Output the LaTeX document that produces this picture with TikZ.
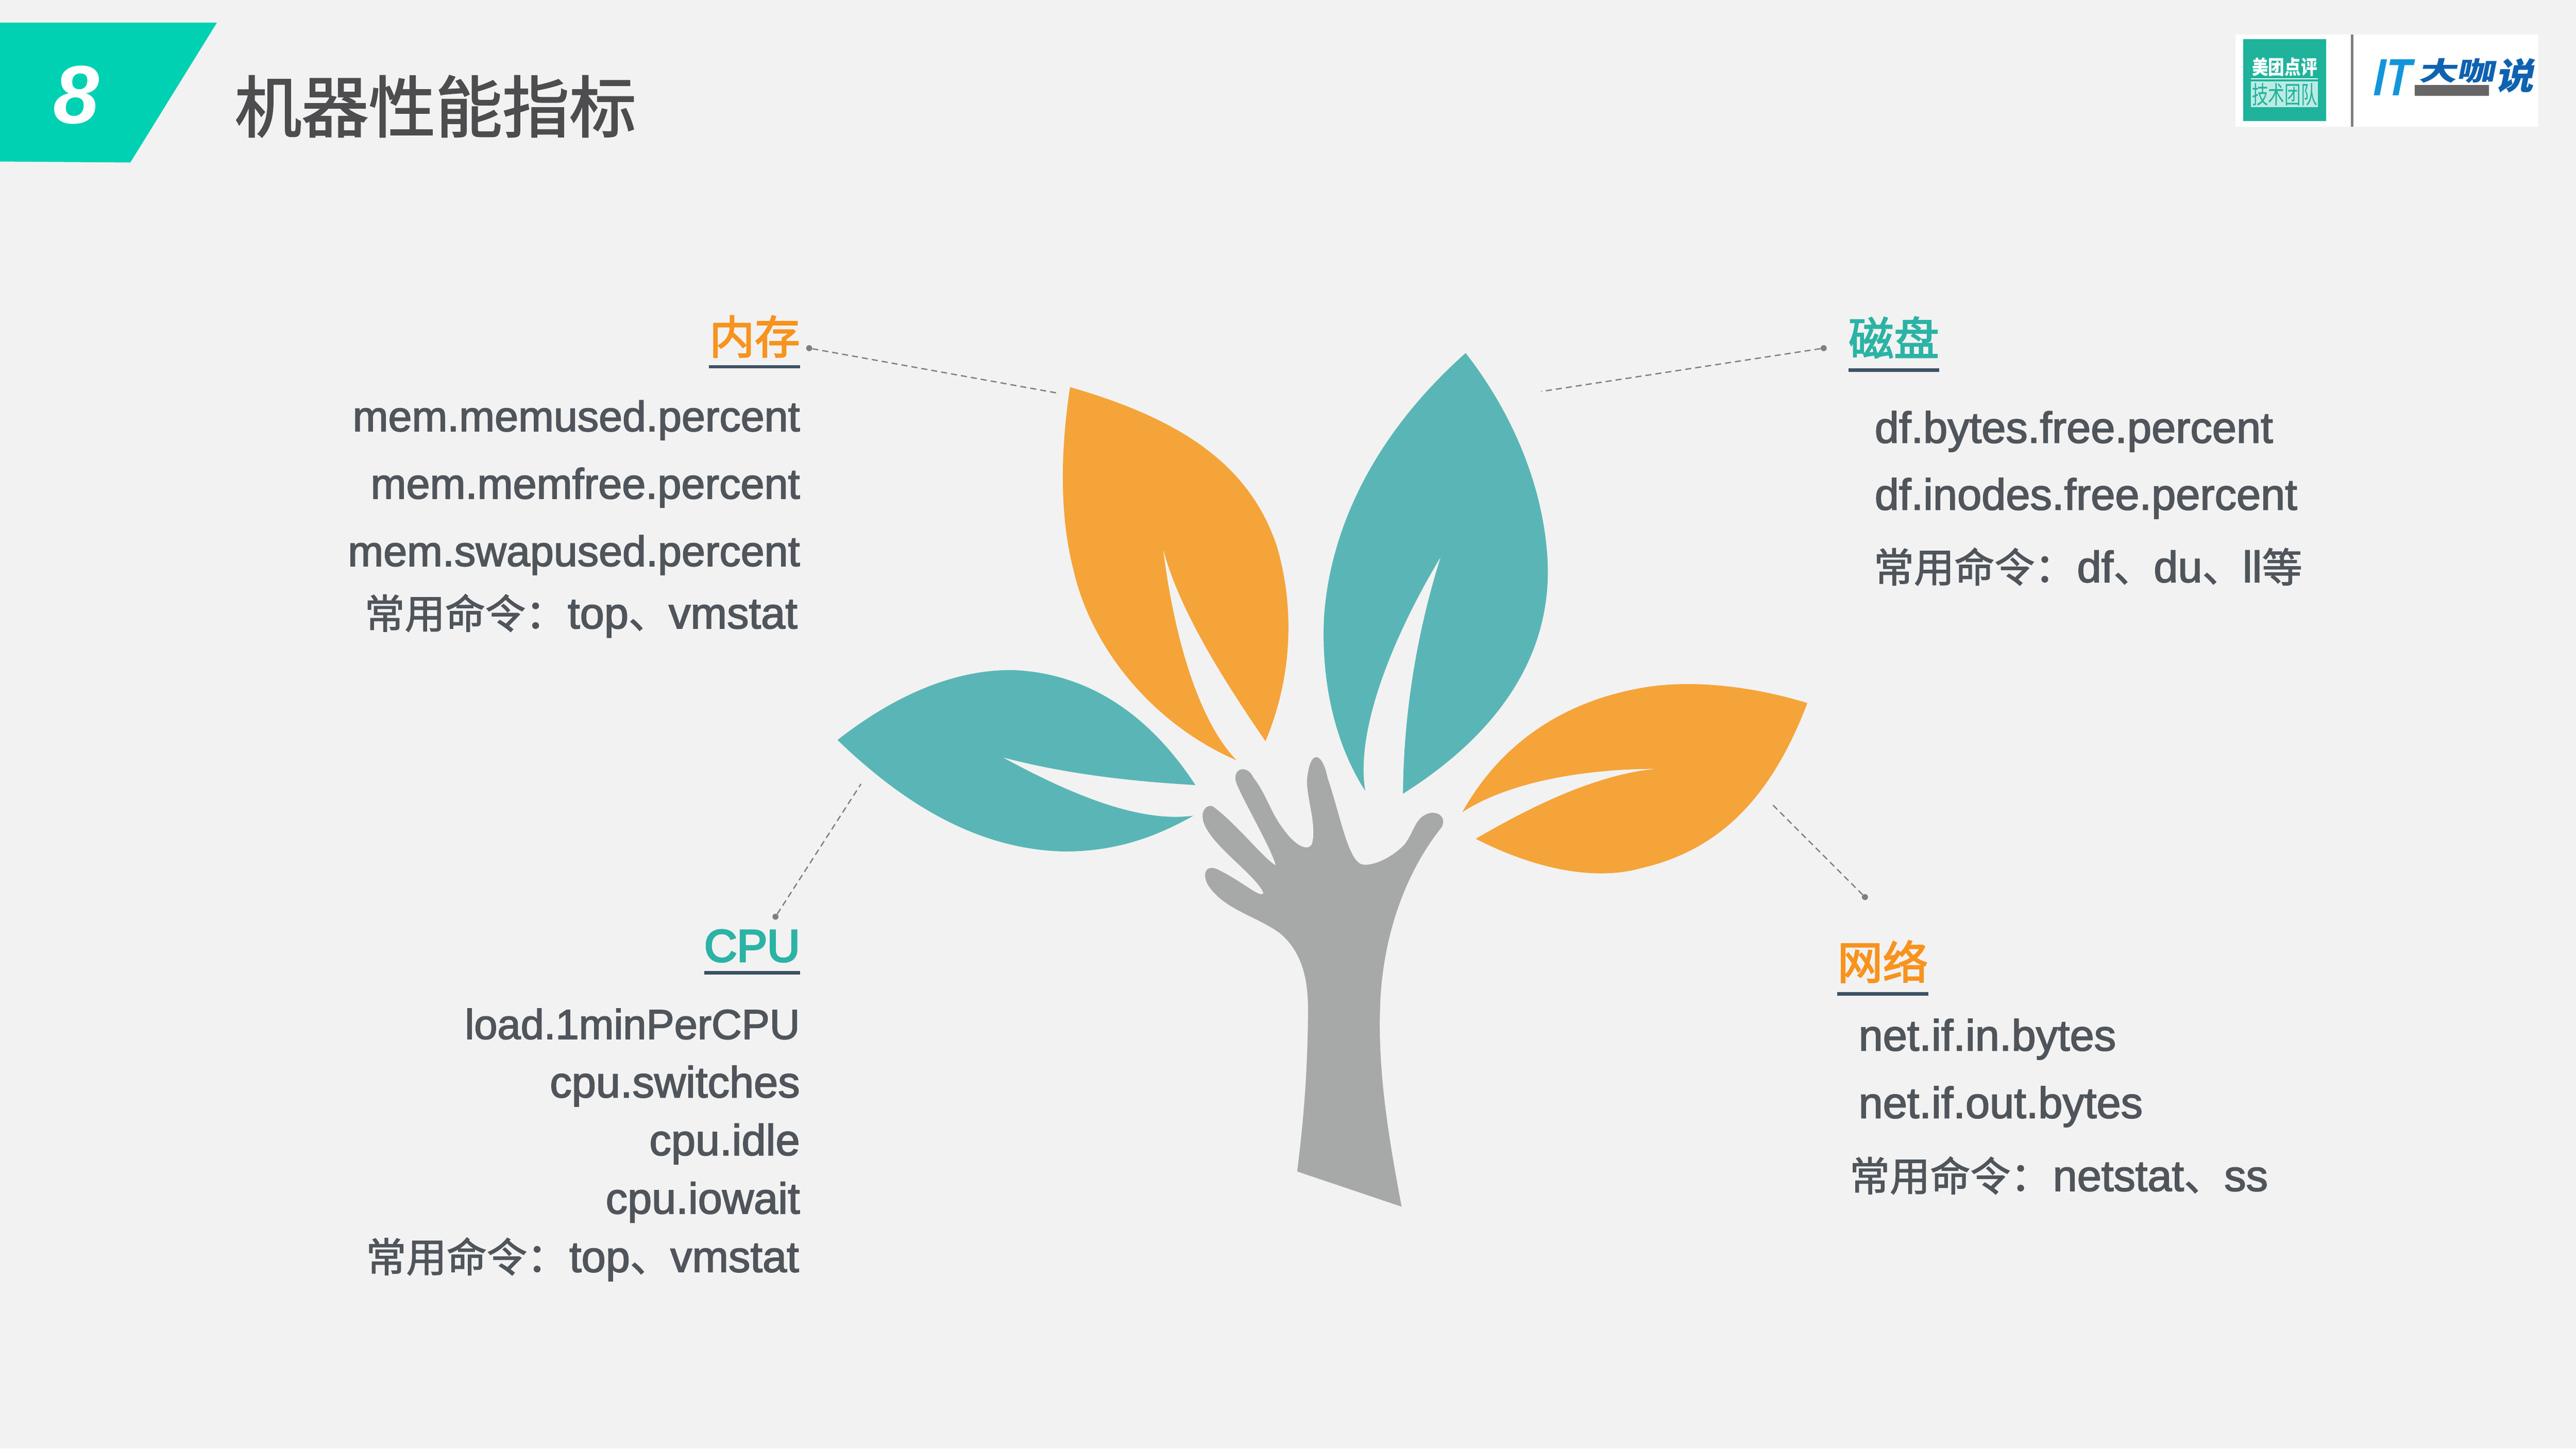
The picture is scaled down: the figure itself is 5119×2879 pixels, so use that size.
\documentclass[tikz,border=0pt]{standalone}
\usepackage{fontspec}
\setmainfont[FakeBold=2.2]{Liberation Sans}
\newfontfamily\lgfont{Liberation Sans}
\newfontfamily\cjkl{Noto Sans CJK SC}
\newfontfamily\cjk[FakeBold=1.8]{Noto Sans CJK SC}
\newfontfamily\cjkh[FakeBold=2.6]{Noto Sans CJK SC}
\newfontfamily\lath[FakeBold=4]{Liberation Sans}
\usetikzlibrary{calc}
\definecolor{bgc}{HTML}{F2F2F2}
\definecolor{banner}{HTML}{00D1B2}
\definecolor{titlec}{HTML}{4D4D4F}
\definecolor{bodyc}{HTML}{4F555B}
\definecolor{orangeh}{HTML}{F7931E}
\definecolor{tealh}{HTML}{2BB3A5}
\definecolor{ruleh}{HTML}{3E5164}
\definecolor{leaforange}{HTML}{F5A43A}
\definecolor{leafteal}{HTML}{5AB6B6}
\definecolor{trunkc}{HTML}{A7A9A8}
\definecolor{dashc}{HTML}{7F7F7F}
\definecolor{logoteal}{HTML}{1FB39B}
\definecolor{logolite}{HTML}{BCEBE4}
\definecolor{logoblue}{HTML}{1296DB}
\definecolor{logodeep}{HTML}{0E62B0}
\newcommand{\cj}[1]{{\cjk\fontsize{40pt}{40pt}\selectfont #1}}
\newcommand{\szf}[1]{\fontsize{#1pt}{44pt}\selectfont}
\tikzset{
  lineL/.style={anchor=base east,text=bodyc,font=\szf{43.4},inner sep=0pt},
  lineR/.style={anchor=base west,text=bodyc,font=\szf{43.4},inner sep=0pt},
  headO/.style={text=orangeh,inner sep=0pt,font=\cjkh\fontsize{45pt}{46pt}\selectfont},
  headT/.style={text=tealh,inner sep=0pt,font=\cjkh\fontsize{45pt}{46pt}\selectfont},
  headrule/.style={draw=ruleh,line width=3.5pt},
  leader/.style={draw=dashc,line width=1.3pt,dash pattern=on 6pt off 4pt},
  enddot/.style={circle,fill=dashc,inner sep=0pt,minimum size=6pt},
}
\begin{document}
\begin{tikzpicture}[x=0.5pt,y=-0.5pt]
\useasboundingbox (0,0) rectangle (5119,2879);
\fill[bgc] (0,0) rectangle (5119,2879);
% banner and title
\fill[banner] (0,45) -- (431,45) -- (259,323) -- (0,321) -- cycle;
\node[text=white,inner sep=0pt,anchor=base,font=\lgfont\fontsize{82pt}{84pt}\selectfont\bfseries\itshape] (num) at (152,245) {8};
\node[anchor=base west,inner sep=0pt,text=titlec,font=\cjk\fontsize{66.5pt}{68pt}\selectfont] (title) at (466,262) {机器性能指标};
% logo
\fill[white] (4442,69) rectangle (5044,252);
\fill[logoteal] (4458,78) rectangle (4622,241);
\node[text=white,inner sep=0pt,font=\cjkl\bfseries\fontsize{16.2pt}{16pt}\selectfont] (lg1) at (4540,133) {\scalebox{1}[1.2]{美团点评}};
\fill[logolite] (4473,162) rectangle (4606,213);
\draw[white,line width=1pt] (4473,157) -- (4606,157);
\node[text=logoteal,inner sep=0pt,font=\cjkl\fontsize{16.2pt}{16pt}\selectfont] (lg2) at (4540,188) {\scalebox{1}[1.5]{技术团队}};
\draw[gray,line width=2.5pt] (4674,69) -- (4674,252);
\node[text=logoblue,inner sep=0pt,anchor=base west,xslant=0.2,font=\lgfont\bfseries\fontsize{52pt}{52pt}\selectfont] (lg3) at (4712,190) {\scalebox{0.8}[1]{IT}};
\node[text=logodeep,inner sep=0pt,anchor=base west,xslant=0.2,font=\cjkl\bfseries\fontsize{38pt}{38pt}\selectfont] (lg4) at (4806,160) {\scalebox{1}[0.68]{大咖}\hspace{2pt}\raisebox{-9pt}{\scalebox{1}[0.95]{说}}};
\fill[black!60] (4799,169) rectangle (4946,190);
% leaves and trunk, coordinates taken in a stretched frame
\begin{scope}[x=0.66964pt,y=-0.57398pt,xshift=800pt,yshift=-325pt]
\fill[leaforange] (393,104) .. controls (378,220) and (378,330) .. (398,420)
  .. controls (425,560) and (520,690) .. (640,750)
  .. controls (590,690) and (550,560) .. (531,384)
  .. controls (555,490) and (620,610) .. (683,717)
  .. controls (725,600) and (725,480) .. (700,380)
  .. controls (660,240) and (560,160) .. (393,104) -- cycle;
\fill[leafteal] (980,45) .. controls (1060,165) and (1100,300) .. (1102,420)
  .. controls (1103,600) and (1000,725) .. (887,808)
  .. controls (888,660) and (910,520) .. (943,398)
  .. controls (880,520) and (815,690) .. (831,803)
  .. controls (785,720) and (765,610) .. (770,500)
  .. controls (780,340) and (850,180) .. (980,45) -- cycle;
\fill[leafteal] (48,715) .. controls (130,640) and (220,592) .. (310,594)
  .. controls (420,600) and (510,670) .. (579,793)
  .. controls (490,787) and (390,775) .. (293,745)
  .. controls (380,800) and (490,860) .. (576,846)
  .. controls (510,890) and (450,908) .. (385,908)
  .. controls (260,905) and (150,830) .. (48,715) -- cycle;
\fill[leaforange] (1487,651) .. controls (1400,620) and (1310,610) .. (1240,625)
  .. controls (1120,650) and (1030,725) .. (975,840)
  .. controls (1040,790) and (1150,765) .. (1262,765)
  .. controls (1170,775) and (1070,835) .. (995,886)
  .. controls (1080,937) and (1170,960) .. (1240,937)
  .. controls (1360,905) and (1435,810) .. (1487,651) -- cycle;
\fill[trunkc] (730,1462) -- (885,1523)
  .. controls (865,1400) and (850,1290) .. (853,1180)
  .. controls (855,1080) and (880,960) .. (945,865)
  .. controls (952,845) and (935,838) .. (925,842)
  .. controls (905,850) and (905,870) .. (890,895)
  .. controls (870,920) and (840,935) .. (825,930)
  .. controls (805,920) and (795,850) .. (775,780)
  .. controls (768,738) and (750,728) .. (745,780)
  .. controls (742,810) and (760,860) .. (752,895)
  .. controls (745,910) and (725,895) .. (710,870)
  .. controls (690,840) and (685,810) .. (665,780)
  .. controls (655,755) and (632,765) .. (640,790)
  .. controls (650,820) and (695,910) .. (698,932)
  .. controls (680,920) and (640,860) .. (605,830)
  .. controls (595,825) and (585,840) .. (592,860)
  .. controls (605,900) and (670,950) .. (680,980)
  .. controls (675,990) and (650,960) .. (610,938)
  .. controls (590,930) and (590,955) .. (600,970)
  .. controls (625,1010) and (670,1020) .. (705,1050)
  .. controls (745,1090) and (747,1150) .. (746,1200)
  .. controls (745,1290) and (740,1370) .. (730,1462) -- cycle;
\end{scope}
% leaders
\node[enddot] (d1) at (1608,692) {};
\coordinate (e1) at (2100,781);
\draw[leader] (d1) -- (e1);
\node[enddot] (d2) at (3624,692) {};
\coordinate (e2) at (3063,778);
\draw[leader] (d2) -- (e2);
\node[enddot] (d3) at (1541,1822) {};
\coordinate (e3) at (1711,1558);
\draw[leader] (d3) -- (e3);
\node[enddot] (d4) at (3706,1783) {};
\coordinate (e4) at (3520,1597);
\draw[leader] (d4) -- (e4);
% memory
\node[headO,anchor=base east] (h1) at (1590,703) {内存};
\draw[headrule] (h1.base west |- 0,729) -- (h1.base east |- 0,729);
\node[lineL,font=\szf{42.3}] (m1) at (1590,857) {mem.memused.percent};
\node[lineL,font=\szf{42.4}] (m2) at (1590,991) {mem.memfree.percent};
\node[lineL,font=\szf{42.3}] (m3) at (1590,1125) {mem.swapused.percent};
\node[lineL] (m4) at (1585,1249) {\cj{常用命令：}\hspace{2pt}top\cj{、}vmstat};
% disk
\node[headT,anchor=base west] (h2) at (3673,706) {磁盘};
\draw[headrule] (h2.base west |- 0,736) -- (h2.base east |- 0,736);
\node[lineR] (k1) at (3725,880) {df.bytes.free.percent};
\node[lineR] (k2) at (3725,1013) {df.inodes.free.percent};
\node[lineR] (k3) at (3723,1157) {\cj{常用命令：}\hspace{2pt}df\cj{、}du\cj{、}ll\cj{等}};
% cpu
\node[headT,anchor=base east,font=\lath\fontsize{45pt}{46pt}\selectfont] (h3) at (1590,1911) {CPU};
\draw[headrule] (h3.base west |- 0,1933) -- (h3.base east |- 0,1933);
\node[lineL,font=\szf{41.6}] (c1) at (1590,2065) {load.1minPerCPU};
\node[lineL] (c2) at (1590,2181) {cpu.switches};
\node[lineL] (c3) at (1590,2296) {cpu.idle};
\node[lineL] (c4) at (1590,2412) {cpu.iowait};
\node[lineL] (c5) at (1588,2528) {\cj{常用命令：}\hspace{2pt}top\cj{、}vmstat};
% net
\node[headO,anchor=base west] (h4) at (3651,1946) {网络};
\draw[headrule] (h4.base west |- 0,1975) -- (h4.base east |- 0,1975);
\node[lineR] (n1) at (3693,2088) {net.if.in.bytes};
\node[lineR] (n2) at (3693,2222) {net.if.out.bytes};
\node[lineR] (n3) at (3675,2367) {\cj{常用命令：}\hspace{2pt}netstat\cj{、}ss};
\end{tikzpicture}
\end{document}
